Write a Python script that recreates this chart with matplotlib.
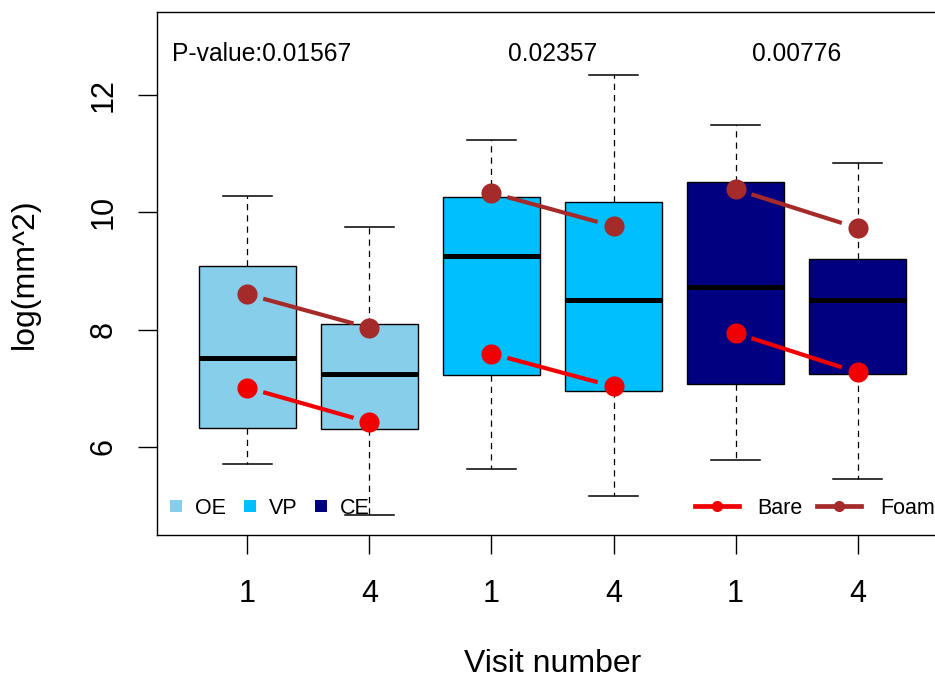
import matplotlib
matplotlib.use("Agg")
import matplotlib.pyplot as plt
from matplotlib.lines import Line2D

plt.rcParams['font.family'] = ['Liberation Sans', 'DejaVu Sans']

# ---- data ----
groups = ["OE", "OE", "VP", "VP", "CE", "CE"]
visit_labels = ["1", "4", "1", "4", "1", "4"]
whisker_low = [5.71, 4.84, 5.62, 5.17, 5.78, 5.45]
q1 = [6.32, 6.30, 7.22, 6.95, 7.08, 7.24]
median = [7.52, 7.25, 9.25, 8.51, 8.73, 8.50]
q3 = [9.09, 8.10, 10.25, 10.17, 10.52, 9.20]
whisker_high = [10.27, 9.74, 11.23, 12.34, 11.48, 10.83]

bare_means = [7.01, 6.42, 7.59, 7.03, 7.94, 7.27]
foam_means = [8.60, 8.03, 10.33, 9.76, 10.39, 9.73]

p_values = ["0.01567", "0.02357", "0.00776"]
group_names = ["OE", "VP", "CE"]
group_colors = {"OE": "#87CEEB", "VP": "#00BFFF", "CE": "#000080"}
bare_color = "#F00000"
foam_color = "#A52A2A"

positions = list(range(1, len(groups) + 1))

fig = plt.figure(figsize=(9.35, 6.8), dpi=100)
ax = fig.add_axes([157 / 935, 1 - 535 / 680, 791 / 935, 523 / 680])

stats = []
for i in range(len(groups)):
    stats.append(dict(med=median[i], q1=q1[i], q3=q3[i],
                      whislo=whisker_low[i], whishi=whisker_high[i],
                      fliers=[], label=visit_labels[i]))

bp = ax.bxp(stats, positions=positions, widths=0.8, capwidths=0.4,
            patch_artist=True, showfliers=False,
            boxprops=dict(edgecolor="black", linewidth=1.0),
            medianprops=dict(color="black", linewidth=3.6, solid_capstyle="butt"),
            whiskerprops=dict(color="black", linewidth=0.9, linestyle=(0, (5, 4))),
            capprops=dict(color="black", linewidth=1.1))
for patch, g in zip(bp["boxes"], groups):
    patch.set_facecolor(group_colors[g])

# connecting lines (type = "b": gaps around the points)
gap = 0.13
for series, col in ((bare_means, bare_color), (foam_means, foam_color)):
    for k in range(0, len(positions), 2):
        x0, x1 = positions[k], positions[k + 1]
        y0, y1 = series[k], series[k + 1]
        xs = [x0 + gap * (x1 - x0), x1 - gap * (x1 - x0)]
        ys = [y0 + gap * (y1 - y0), y1 - gap * (y1 - y0)]
        ax.plot(xs, ys, color=col, linewidth=3.0, solid_capstyle="butt", zorder=4)
    ax.plot(positions, series, linestyle="none", marker="o", markersize=14.5,
            color=col, markeredgewidth=0, zorder=5)

ax.set_xlim(0.26, 6.74)
ax.set_ylim(4.5, 13.41)
ax.set_yticks([6, 8, 10, 12])
ax.set_xticks(positions)
ax.set_xticklabels(visit_labels)

ax.tick_params(axis="both", length=13.7, width=1.0, labelsize=22, color="black")
ax.tick_params(axis="x", pad=18)
ax.tick_params(axis="y", pad=14, labelrotation=90)
for lab in ax.get_yticklabels():
    lab.set_va("center")

for s in ax.spines.values():
    s.set_linewidth(1.0)
    s.set_color("black")

ax.set_xlabel("Visit number", fontsize=23)
ax.xaxis.set_label_coords(0.5, -0.246)
ax.xaxis.label.set_va("center")
ax.set_ylabel("log(mm^2)", fontsize=23)
ax.yaxis.set_label_coords(-0.167, 0.5)
ax.yaxis.label.set_va("center")

# p-values
ax.text(0.019, 12.574, "P-value:" + p_values[0], fontsize=17.7, ha="left",
        va="baseline", transform=ax.get_yaxis_transform())
for j in (1, 2):
    xc = (positions[2 * j] + positions[2 * j + 1]) / 2
    ax.text(xc, 12.574, p_values[j], fontsize=17.7, ha="center", va="baseline")

# legends
h1 = [Line2D([], [], linestyle="none", marker="s", markersize=8,
             color=group_colors[g], markeredgewidth=0) for g in group_names]
leg1 = ax.legend(h1, group_names, loc="center left", bbox_to_anchor=(0.0136, 0.0516),
                 ncol=3, frameon=False, fontsize=15.5, handlelength=0.8,
                 handletextpad=0.48, columnspacing=0.7, borderpad=0, borderaxespad=0)
ax.add_artist(leg1)
h2 = [Line2D([], [], color=bare_color, linewidth=3.4, marker="o", markersize=7),
      Line2D([], [], color=foam_color, linewidth=3.4, marker="o", markersize=7)]
ax.legend(h2, ["Bare", "Foam"], loc="center left", bbox_to_anchor=(0.680, 0.0516),
          ncol=2, frameon=False, fontsize=15.5, handlelength=2.04,
          handletextpad=0.88, columnspacing=0.67, borderpad=0, borderaxespad=0)

fig.savefig("out.png", dpi=100)
